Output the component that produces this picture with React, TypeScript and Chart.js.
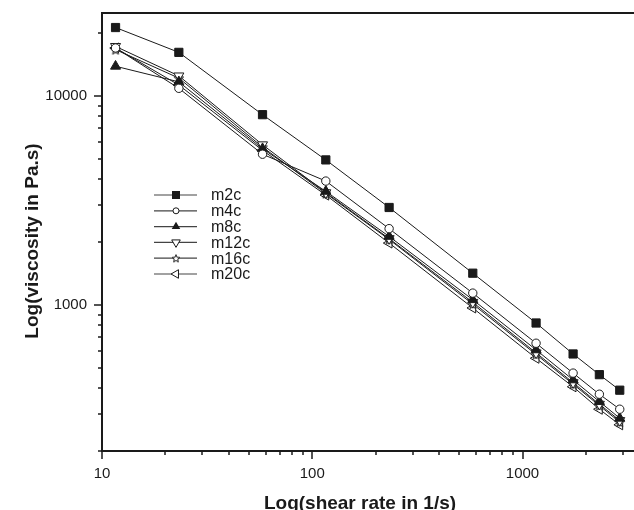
import React, { useEffect, useRef } from "react";
import { Chart, registerables } from "chart.js";

Chart.register(...registerables);

const shearRate = [11.6, 23.2, 58, 116, 232, 580, 1160, 1740, 2320, 2900];
const seriesNames = ["m2c", "m4c", "m8c", "m12c", "m16c", "m20c"];
const m2c = [21300, 16200, 8150, 4950, 2930, 1420, 820, 583, 464, 391];
const m4c = [17000, 10900, 5270, 3920, 2320, 1140, 656, 472, 374, 317];
const m8c = [13900, 11700, 5600, 3500, 2130, 1060, 610, 438, 345, 287];
const m12c = [17300, 12500, 5850, 3450, 2080, 1030, 590, 425, 335, 280];
const m16c = [16700, 12200, 5700, 3420, 2060, 1010, 580, 418, 330, 275];
const m20c = [17000, 11300, 5500, 3360, 1980, 968, 556, 406, 317, 267];
const xTickLabels = [10, 100, 1000];
const yTickLabels = [1000, 10000];
const xTitle = "Log(shear rate in 1/s)";
const yTitle = "Log(viscosity in Pa.s)";

const INK = "#1a1a1a";
const FONT = "'Liberation Sans', Arial, sans-serif";

function makeStar(size: number): HTMLCanvasElement {
  const c = document.createElement("canvas");
  c.width = size;
  c.height = size;
  const ctx = c.getContext("2d")!;
  const cx = size / 2, cy = size / 2 + 0.5;
  const R = size / 2 - 1, r = R * 0.45;
  ctx.beginPath();
  for (let i = 0; i < 10; i++) {
    const rad = i % 2 === 0 ? R : r;
    const a = -Math.PI / 2 + (i * Math.PI) / 5;
    const px = cx + rad * Math.cos(a), py = cy + rad * Math.sin(a);
    if (i === 0) ctx.moveTo(px, py); else ctx.lineTo(px, py);
  }
  ctx.closePath();
  ctx.fillStyle = "#fff";
  ctx.fill();
  ctx.strokeStyle = INK;
  ctx.lineWidth = 1;
  ctx.stroke();
  return c;
}

function drawMarker(ctx: CanvasRenderingContext2D, kind: string, x: number, y: number, s: number, star: HTMLCanvasElement) {
  ctx.save();
  ctx.lineWidth = 1;
  ctx.strokeStyle = INK;
  ctx.fillStyle = INK;
  if (kind === "square") {
    ctx.fillRect(x - s / 2, y - s / 2, s, s);
  } else if (kind === "circle") {
    ctx.beginPath();
    ctx.arc(x, y, s / 2 - 0.5, 0, Math.PI * 2);
    ctx.fillStyle = "#fff";
    ctx.fill();
    ctx.stroke();
  } else if (kind === "star") {
    ctx.drawImage(star, x - star.width / 2, y - star.height / 2);
  } else {
    const rot = kind === "up" ? 0 : kind === "down" ? 180 : 270;
    const rad = (rot * Math.PI) / 180;
    const r = s * 0.62;
    ctx.beginPath();
    for (let i = 0; i < 3; i++) {
      const a = rad + (i * 2 * Math.PI) / 3;
      const px = x + Math.sin(a) * r, py = y - Math.cos(a) * r;
      if (i === 0) ctx.moveTo(px, py); else ctx.lineTo(px, py);
    }
    ctx.closePath();
    if (kind === "up") { ctx.fill(); } else { ctx.fillStyle = "#fff"; ctx.fill(); ctx.stroke(); }
  }
  ctx.restore();
}

export default function App() {
  const ref = useRef<HTMLCanvasElement | null>(null);
  useEffect(() => {
    if (!ref.current) return;
    const star = makeStar(12);
    const legendStar = makeStar(10);
    const values = [m2c, m4c, m8c, m12c, m16c, m20c];
    const kinds = ["square", "circle", "up", "down", "star", "left"];
    const styleOf = (k: string): any => {
      if (k === "square") return { pointStyle: "rect", pointRadius: 5.8, pointBackgroundColor: INK, pointRotation: 0 };
      if (k === "circle") return { pointStyle: "circle", pointRadius: 4.2, pointBackgroundColor: "#fff", pointRotation: 0 };
      if (k === "up") return { pointStyle: "triangle", pointRadius: 5.8, pointBackgroundColor: INK, pointRotation: 0 };
      if (k === "down") return { pointStyle: "triangle", pointRadius: 5.8, pointBackgroundColor: "#fff", pointRotation: 180 };
      if (k === "star") return { pointStyle: star, pointRadius: 6, pointBackgroundColor: "#fff", pointRotation: 0 };
      return { pointStyle: "triangle", pointRadius: 5.8, pointBackgroundColor: "#fff", pointRotation: 270 };
    };
    const datasets = seriesNames.map((name, i) => ({
      label: name,
      data: shearRate.map((x, j) => ({ x, y: values[i][j] })),
      borderColor: INK,
      borderWidth: 1,
      pointBorderColor: INK,
      pointBorderWidth: 1,
      showLine: true,
      order: i,
      ...styleOf(kinds[i]),
    }));

    const decor = {
      id: "decor",
      afterDraw(chart: any) {
        const { ctx, chartArea } = chart;
        const xs = chart.scales.x, ys = chart.scales.y;
        ctx.save();
        ctx.strokeStyle = INK;
        ctx.lineWidth = 2;
        ctx.beginPath();
        ctx.moveTo(chartArea.left - 1, chartArea.top);
        ctx.lineTo(chartArea.right, chartArea.top);
        ctx.stroke();
        ctx.lineWidth = 1.5;
        for (let d = 10; d <= 1000; d *= 10) {
          for (let m = 1; m <= 9; m++) {
            const v = d * m;
            if (v < xs.min || v > xs.max) continue;
            const px = Math.round(xs.getPixelForValue(v));
            const len = m === 1 ? 8 : 4;
            ctx.beginPath();
            ctx.moveTo(px, chartArea.bottom);
            ctx.lineTo(px, chartArea.bottom + len);
            ctx.stroke();
          }
        }
        for (let d = 100; d <= 10000; d *= 10) {
          for (let m = 1; m <= 9; m++) {
            const v = d * m;
            if (v < ys.min || v > ys.max) continue;
            const py = Math.round(ys.getPixelForValue(v));
            const len = m === 1 ? 8 : 4;
            ctx.beginPath();
            ctx.moveTo(chartArea.left, py);
            ctx.lineTo(chartArea.left - len, py);
            ctx.stroke();
          }
        }
        // axis titles
        ctx.fillStyle = INK;
        ctx.font = "bold 19px " + FONT;
        ctx.textAlign = "center";
        ctx.textBaseline = "alphabetic";
        ctx.fillText(xTitle, 360, 509);
        ctx.save();
        ctx.translate(38, 241);
        ctx.rotate(-Math.PI / 2);
        ctx.fillText(yTitle, 0, 0);
        ctx.restore();
        // legend
        const y0 = 195, dy = 15.8;
        seriesNames.forEach((name, i) => {
          const y = y0 + i * dy;
          ctx.strokeStyle = "#444";
          ctx.lineWidth = 1.2;
          ctx.beginPath();
          ctx.moveTo(154, y);
          ctx.lineTo(197, y);
          ctx.stroke();
          drawMarker(ctx, kinds[i], 176, y, kinds[i] === "circle" ? 7 : 8, legendStar);
          ctx.fillStyle = INK;
          ctx.font = "16px " + FONT;
          ctx.textBaseline = "middle";
          ctx.textAlign = "left";
          ctx.fillText(name, 211, y + 1);
        });
        ctx.restore();
      },
    };

    const chart = new Chart(ref.current, {
      type: "scatter",
      data: { datasets: datasets as any },
      options: {
        animation: false,
        responsive: false,
        layout: { autoPadding: false, padding: { top: 13, right: 0, left: 0, bottom: 0 } },
        plugins: { legend: { display: false }, tooltip: { enabled: false } },
        scales: {
          x: {
            type: "logarithmic",
            min: 10,
            max: 3390,
            grid: { display: false, drawTicks: false },
            border: { display: true, color: INK, width: 2 },
            ticks: {
              autoSkip: false,
              maxRotation: 0,
              padding: 14,
              color: INK,
              font: { size: 15, family: FONT },
              callback: (v: any) => (xTickLabels.includes(Number(v)) ? String(v) : null),
            },
            afterFit: (s: any) => { s.height = 59; s.paddingLeft = 0; s.paddingRight = 0; },
          },
          y: {
            type: "logarithmic",
            min: 200,
            max: 25000,
            grid: { display: false, drawTicks: false },
            border: { display: true, color: INK, width: 2 },
            ticks: {
              autoSkip: false,
              padding: 15,
              color: INK,
              font: { size: 15, family: FONT },
              callback: (v: any) => (yTickLabels.includes(Number(v)) ? String(v) : null),
            },
            afterFit: (s: any) => { s.width = 102; s.paddingTop = 0; s.paddingBottom = 0; },
          },
        },
      } as any,
      plugins: [decor],
    });
    return () => chart.destroy();
  }, []);
  return (
    <div style={{ position: "fixed", left: 0, top: 0, width: 634, height: 510, background: "#fff" }}>
      <canvas ref={ref} width={634} height={510} />
    </div>
  );
}
